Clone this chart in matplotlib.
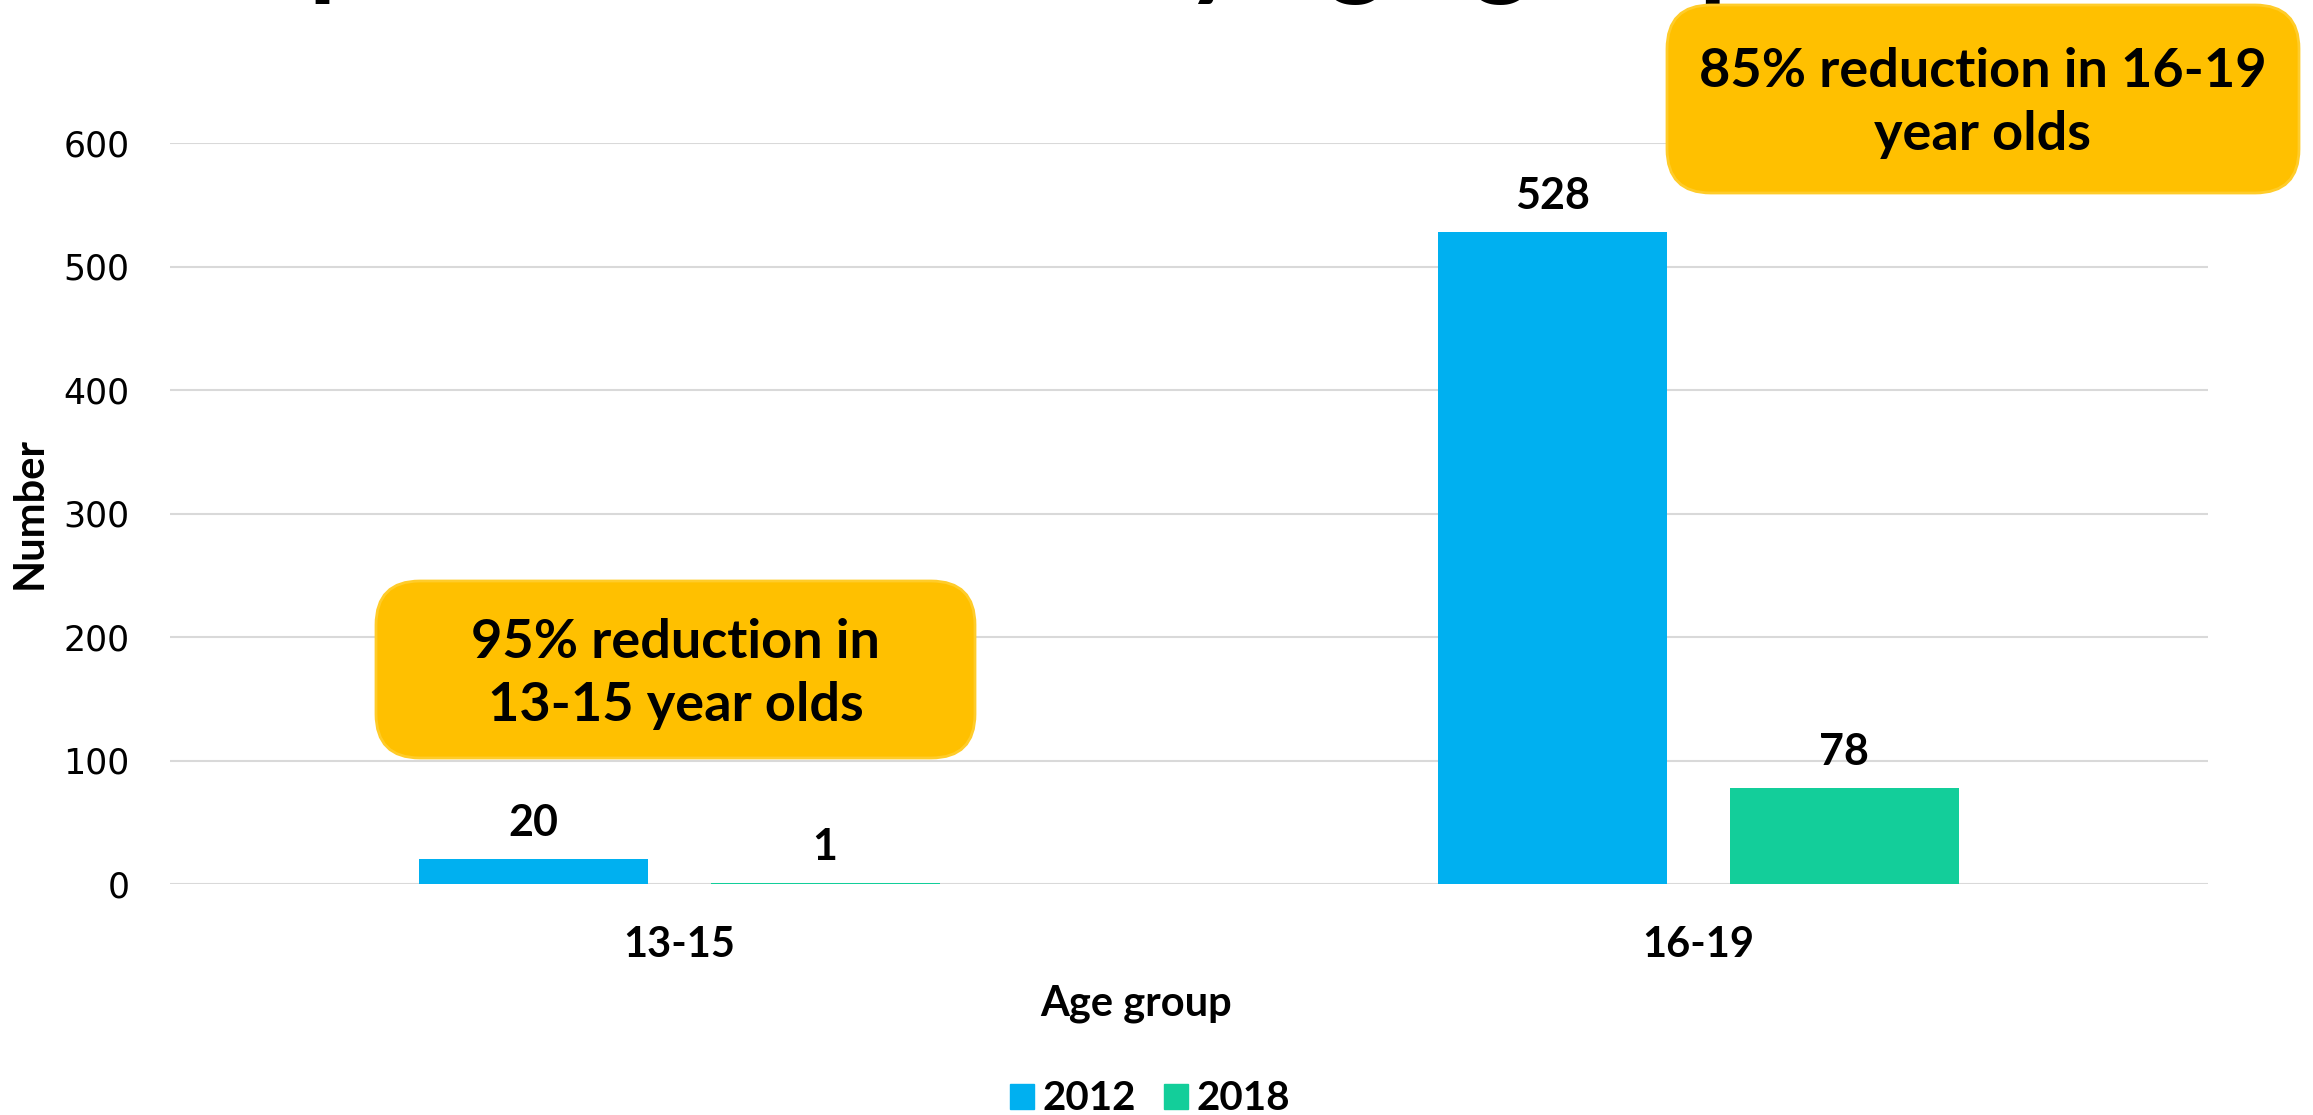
import numpy as np
import matplotlib
matplotlib.use("Agg")
import matplotlib.pyplot as plt
from matplotlib.patches import FancyBboxPatch, Patch

# Dati del grafico
age_groups = ["13-15", "16-19"]
values_2012 = [20, 528]
values_2018 = [1, 78]
series_names = ["2012", "2018"]
y_ticks = [0, 100, 200, 300, 400, 500, 600]
note_left = "95% reduction in\n13-15 year olds"
note_right = "85% reduction in 16-19\nyear olds"
title_text = "Reported offences by age group"

# Stili
BLUE = "#00B0F0"
GREEN = "#13CE9A"
GOLD = "#FFC000"
GRID = "#D9D9D9"
NARROW = ["Lato", "DejaVu Sans"]

W, H = 2313, 1115
fig = plt.figure(figsize=(W / 100, H / 100), dpi=100)
fig.patch.set_facecolor("white")

# Area del grafico (in pixel della figura)
left, right, top, bottom = 170, 2208, 143, 884
ax = fig.add_axes([left / W, 1 - bottom / H, (right - left) / W, (bottom - top) / H])

x = np.arange(len(age_groups))
width = 0.225
offset = 0.143

bars1 = ax.bar(x - offset, values_2012, width, color=BLUE, zorder=3)
bars2 = ax.bar(x + offset, values_2018, width, color=GREEN, zorder=3)

ax.set_xlim(-0.5, 1.5)
ax.set_ylim(0, 600)
ax.set_yticks(y_ticks)
ax.set_xticks(x)
ax.set_xticklabels(age_groups, fontsize=30, fontweight="bold", family=NARROW)

for lab in ax.get_yticklabels():
    lab.set_family("DejaVu Sans")
    lab.set_fontsize(25)

ax.tick_params(axis="y", length=0, pad=29, colors="black")
ax.tick_params(axis="x", length=0, pad=30, colors="black")
ax.yaxis.grid(True, color=GRID, linewidth=1.5, zorder=0)
ax.set_axisbelow(True)
for s in ax.spines.values():
    s.set_visible(False)

# Etichette dei valori sopra le barre
for bars in (bars1, bars2):
    for b in bars:
        ax.annotate(f"{int(b.get_height())}",
                    (b.get_x() + b.get_width() / 2, b.get_height()),
                    xytext=(0, 26), textcoords="offset points",
                    ha="center", va="center", fontsize=31,
                    fontweight="bold", family=NARROW, color="black")

# Titoli degli assi
fig.text(30 / W, 1 - 513 / H, "Number", rotation=90, ha="center", va="center",
         fontsize=30, fontweight="bold", family=NARROW)
fig.text(1136 / W, 1 - 1004 / H, "Age group", ha="center", va="center",
         fontsize=30, fontweight="bold", family=NARROW)

# Titolo tagliato in alto (si vedono solo i discendenti)
fig.text(178 / W, 1 + 15 / H, title_text, ha="left", va="baseline",
         fontsize=80, fontweight="bold", family=NARROW)

# Legenda
handles = [Patch(color=BLUE, label=series_names[0]),
           Patch(color=GREEN, label=series_names[1])]
fig.legend(handles=handles, loc="center", bbox_to_anchor=(1150 / W, 1 - 1099 / H),
           ncol=2, frameon=False, handlelength=0.6, handleheight=0.6,
           handletextpad=0.2, columnspacing=0.7, borderpad=0,
           prop={"family": NARROW, "weight": "bold", "size": 29})


# Riquadri di commento
def note_box(x0, y0, x1, y1, text):
    box = FancyBboxPatch((x0 / W, 1 - y1 / H), (x1 - x0) / W, (y1 - y0) / H,
                         boxstyle="round,pad=0,rounding_size=0.019",
                         transform=fig.transFigure, facecolor=GOLD,
                         edgecolor="#FFCC2A", linewidth=2, zorder=5,
                         mutation_aspect=W / H)
    fig.add_artist(box)
    fig.text((x0 + x1) / 2 / W, 1 - (y0 + y1) / 2 / H - 0.004, text, ha="center",
             va="center", fontsize=39, fontweight="bold", family=NARROW,
             linespacing=1.35, zorder=6)


note_box(376, 581, 975, 758, note_left)
note_box(1667, 5, 2299, 193, note_right)

fig.savefig("out.png", dpi=100)
